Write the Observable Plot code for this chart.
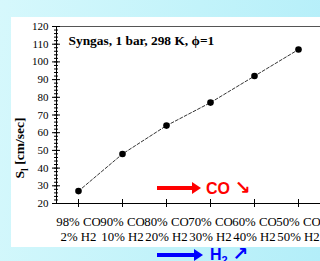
<!DOCTYPE html>
<html><head><meta charset="utf-8">
<script src="https://cdn.jsdelivr.net/npm/d3@7"></script>
<script src="https://cdn.jsdelivr.net/npm/@observablehq/plot@0.6"></script>
<style>
html,body{margin:0;padding:0;width:320px;height:261px;overflow:hidden;}
body{background:linear-gradient(100deg,#d6f8fc 0%,#c2f3fa 55%,#b3eef9 100%);position:relative;font-family:"Liberation Serif",serif;}
#panel{position:absolute;left:11px;top:17px;width:320px;height:230px;background:#fff;}
#ylab{position:absolute;left:21px;top:148px;transform:translate(-50%,-50%) rotate(-90deg);font:bold 13.5px "Liberation Serif";white-space:nowrap;color:#000;}
.arr{position:absolute;height:4px;}
.arr .shaft{position:absolute;left:0;top:0;height:4px;}
.arr .head{position:absolute;top:-4px;width:0;height:0;border-top:6px solid transparent;border-bottom:6px solid transparent;}
.lab{position:absolute;font:bold 16px "Liberation Sans";white-space:nowrap;line-height:18px;}
.lab .g{font:bold 19px "DejaVu Sans";line-height:18px;}
</style></head>
<body>
<div id="panel"></div>
<div id="ylab">S<sub style="font-size:10px">l</sub> [cm/sec]</div>
<div class="arr" style="left:157px;top:186px;width:45px;"><div class="shaft" style="width:36px;background:#f00"></div><div class="head" style="left:35px;border-left:9px solid #f00"></div></div>
<div class="lab" style="left:206px;top:178px;color:#f00">CO <span class="g">↘</span></div>
<div class="arr" style="left:157px;top:253px;width:45px;"><div class="shaft" style="width:38px;background:#00f"></div><div class="head" style="left:37px;border-left:9px solid #00f"></div></div>
<div class="lab" style="left:210px;top:244px;color:#00f">H<sub style="font-size:11px;line-height:0">2</sub> <span class="g">↗</span></div>
<script>
const labelsCO = ["98% CO","90% CO","80% CO","70% CO","60% CO","50% CO"];
const labelsH2 = ["2% H2","10% H2","20% H2","30% H2","40% H2","50% H2"];
const speeds = [27,48,64,77,92,107];
const titleText = "Syngas, 1 bar, 298 K, \u03D5=1";

const data = speeds.map((s,i)=>({i, s}));
const idx = labelsCO.map((_,i)=>i);
const majorY = d3.range(20,121,10);
const minorY = d3.range(20,121,2);

const chart = Plot.plot({
  width: 320, height: 230,
  marginLeft: 45, marginRight: 0, marginTop: 9, marginBottom: 44,
  style: {fontFamily: '"Liberation Serif", serif', fontSize: "11px", color: "#000", background: "transparent"},
  x: {domain: [-0.5, 5.75], label: null},
  y: {domain: [20,120], label: null},
  marks: [
    Plot.frame({stroke: "#555", strokeWidth: 1}),
    Plot.axisY({ticks: majorY, tickSize: 4, tickPadding: 4, fontSize: 11, label: null, stroke: "#000"}),
    Plot.axisY({ticks: majorY, tickSize: -4, tickFormat: () => "", label: null, stroke: "#000"}),
    Plot.axisY({ticks: minorY, tickSize: 2, tickFormat: () => "", label: null, stroke: "#000"}),
    Plot.axisY({ticks: minorY, tickSize: -2, tickFormat: () => "", label: null, stroke: "#000"}),
    Plot.axisX({ticks: idx, tickSize: 4, tickPadding: 8, fontSize: 12.8, lineHeight: 1.15,
      tickFormat: i => labelsCO[i] + "\n" + labelsH2[i], label: null, stroke: "#000"}),
    Plot.axisX({ticks: idx, tickSize: -4, tickFormat: () => "", label: null, stroke: "#000"}),
    Plot.ruleY([20], {stroke: "#000"}),
    Plot.ruleX([-0.5], {stroke: "#000"}),
    Plot.line(data, {x: "i", y: "s", stroke: "#000", strokeWidth: 0.8, strokeDasharray: "3,2"}),
    Plot.dot(data, {x: "i", y: "s", r: 3.3, fill: "#000", stroke: "none"}),
    Plot.text([titleText], {frameAnchor: "top-left", dx: 12, dy: 9, fontWeight: "bold", fontSize: 13.4, textAnchor: "start", fill: "#000"})
  ]
});
document.getElementById("panel").appendChild(chart);
</script>
</body></html>
